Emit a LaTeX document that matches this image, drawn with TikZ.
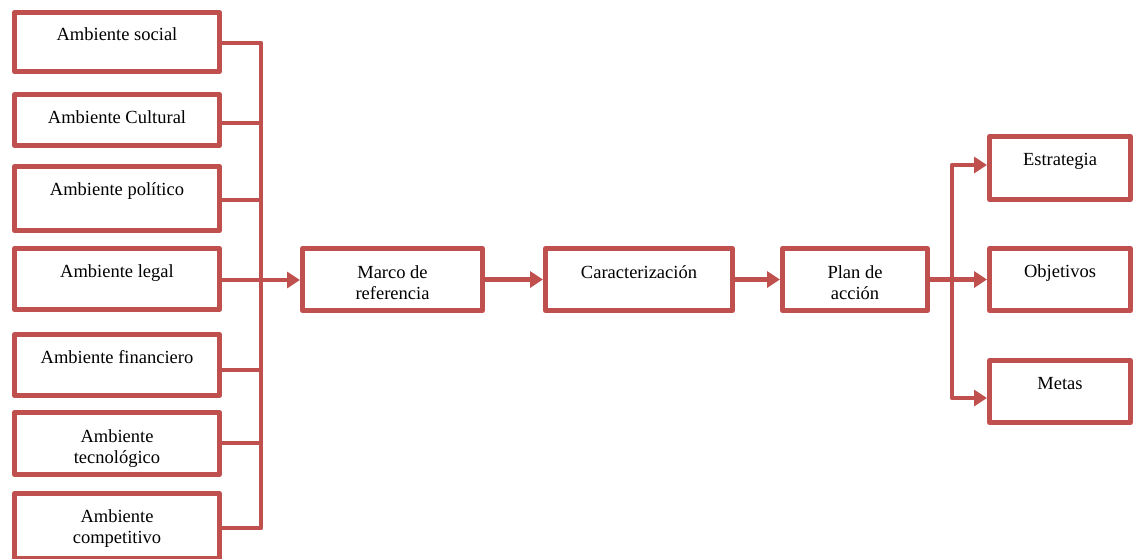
\documentclass[tikz,border=0pt]{standalone}
\usepackage{fontspec}
\setmainfont{Liberation Serif}
\usetikzlibrary{arrows.meta}
\definecolor{accent}{HTML}{C0504D}
% two centred lines; the box baseline is that of the first line
\newcommand\pairlines[2]{\vtop{\baselineskip=21pt\lineskiplimit=-10pt\halign{\hfil##\hfil\cr#1\cr#2\cr}}}
\begin{document}
\begin{tikzpicture}[x=1pt,y=-1pt,
  box/.style={draw=accent, line width=5pt, line join=round, rectangle, inner sep=0pt},
  lbl/.style={anchor=base, inner sep=0pt, font=\fontsize{18.5}{21}\selectfont},
  link/.style={draw=accent, line width=4.5pt, line join=round},
  arr/.style={link, -{Triangle[length=13pt,width=16pt]}}]
\useasboundingbox (0,0) rectangle (1134,558);
\clip (0,0) rectangle (1134,558);

% environment boxes
\node[box, minimum width=205pt, minimum height=59pt] (b1) at (117,42) {};
\node[box, minimum width=205pt, minimum height=51pt] (b2) at (117,120) {};
\node[box, minimum width=205pt, minimum height=64pt] (b3) at (117,198.5) {};
\node[box, minimum width=205pt, minimum height=61pt] (b4) at (117,279) {};
\node[box, minimum width=205pt, minimum height=61pt] (b5) at (117,365) {};
\node[box, minimum width=205pt, minimum height=62pt] (b6) at (117,443.5) {};
\node[box, minimum width=205pt, minimum height=65pt] (b7) at (117,526) {};

% main chain
\node[box, minimum width=180pt, minimum height=62pt] (marco) at (392.5,279.5) {};
\node[box, minimum width=187pt, minimum height=62pt] (car) at (639,279.5) {};
\node[box, minimum width=145pt, minimum height=62pt] (plan) at (855,279.5) {};

% outcomes
\node[box, minimum width=141pt, minimum height=63pt] (estr) at (1060,168) {};
\node[box, minimum width=141pt, minimum height=62pt] (obj) at (1060,279.5) {};
\node[box, minimum width=141pt, minimum height=62pt] (metas) at (1060,391.5) {};

% labels
\node[lbl] (t1) at (117,40) {Ambiente social};
\node[lbl] (t2) at (117,123) {Ambiente Cultural};
\node[lbl] (t3) at (117,195) {Ambiente político};
\node[lbl] (t4) at (117,277) {Ambiente legal};
\node[lbl] (t5) at (117,363) {Ambiente financiero};
\node[lbl] (t6) at (117,442) {\pairlines{Ambiente}{tecnológico}};
\node[lbl] (t7) at (117,522) {\pairlines{Ambiente}{competitivo}};
\node[lbl] (tm) at (392.5,278) {\pairlines{Marco de}{referencia}};
\node[lbl] (tc) at (639,278) {Caracterización};
\node[lbl] (tp) at (855,278) {\pairlines{Plan de}{acción}};
\node[lbl] (te) at (1060,165) {Estrategia};
\node[lbl] (to) at (1060,277) {Objetivos};
\node[lbl] (tt) at (1060,389) {Metas};

% left collector bus
\coordinate (s1) at (261,43);
\coordinate (s2) at (261,123);
\coordinate (s3) at (261,200);
\coordinate (s4) at (261,280);
\coordinate (s5) at (261,370);
\coordinate (s6) at (261,443);
\coordinate (s7) at (261,528);
\draw[link] (s1 -| b1.east) -- (s1) -- (s7) -- (s7 -| b7.east);
\foreach \i in {2,3,4,5,6} \draw[link] (s\i -| b\i.east) -- (s\i);
\draw[arr] (s4) -- (s4 -| marco.west);

% chain arrows
\draw[arr] (marco.east) -- (car.west);
\draw[arr] (car.east) -- (plan.west);

% right distributor
\coordinate (r1) at (952,165);
\coordinate (r3) at (952,398);
\draw[arr] (plan.east) -- (obj.west);
\draw[arr] (r3) -- (r1) -- (r1 -| estr.west);
\draw[arr] (r1) -- (r3) -- (r3 -| metas.west);
\end{tikzpicture}
\end{document}
